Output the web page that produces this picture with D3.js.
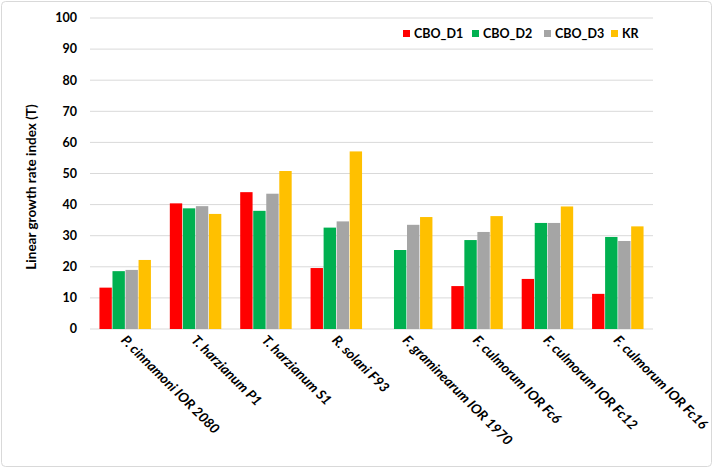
<!DOCTYPE html>
<html><head><meta charset="utf-8">
<script src="https://cdn.jsdelivr.net/npm/d3@7"></script>
<style>body{margin:0;background:#fff}svg{display:block}text{font-family:Lato,"Open Sans",sans-serif}</style>
</head><body>
<svg id="c" width="715" height="472"></svg>
<script>
const categories = ["P. cinnamoni IOR 2080","T. harzianum P1","T. harzianum S1","R. solani F93","F. graminearum IOR 1970","F. culmorum IOR Fc6","F. culmorum IOR Fc12","F. culmorum IOR Fc16"];
const seriesNames = ["CBO_D1","CBO_D2","CBO_D3","KR"];
const seriesColors = ["#FF0000","#00B050","#A5A5A5","#FFC000"];
const cbo_d1 = [13.3,40.4,44.0,19.6,0,13.8,16.1,11.3];
const cbo_d2 = [18.6,38.8,38.0,32.6,25.4,28.6,34.1,29.6];
const cbo_d3 = [19.0,39.5,43.5,34.6,33.5,31.2,34.1,28.3];
const kr     = [22.2,37.0,50.8,57.1,36.0,36.3,39.4,33.0];
const yTicks = [0,10,20,30,40,50,60,70,80,90,100];
const seriesValues = [cbo_d1,cbo_d2,cbo_d3,kr];

const svg = d3.select("#c");
svg.append("rect").attr("x",1.5).attr("y",1.5).attr("width",710).attr("height",465)
  .attr("rx",4).attr("fill","#fff").attr("stroke","#d9d9d9").attr("stroke-width",1);

const L=90,R=653,T=18,B=329;
const x = d3.scaleBand().domain(categories).range([L,R]).paddingInner(0.25).paddingOuter(0.125);
const xs = d3.scaleBand().domain(seriesNames).range([0,x.bandwidth()]).padding(0.05);
const y = d3.scaleLinear().domain([0,100]).range([B,T]);

// grid
svg.append("g").selectAll("line").data(yTicks).join("line")
  .attr("x1",L).attr("x2",R).attr("y1",d=>y(d)).attr("y2",d=>y(d))
  .attr("stroke","#d9d9d9").attr("stroke-width",1);

// y tick labels
svg.append("g").selectAll("text").data(yTicks).join("text")
  .attr("x",77).attr("y",d=>y(d)).attr("dy","0.35em").attr("text-anchor","end")
  .attr("font-size",12.5).attr("font-weight","bold").attr("fill","#000").text(d=>d);

// bars
seriesNames.forEach((s,i)=>{
  svg.append("g").selectAll("rect").data(categories).join("rect")
    .attr("x",c=>x(c)+xs(s)).attr("width",xs.bandwidth())
    .attr("y",(c,j)=>y(seriesValues[i][j])).attr("height",(c,j)=>B-y(seriesValues[i][j]))
    .attr("fill",seriesColors[i])
    .attr("display",(c,j)=>seriesValues[i][j]>0?null:"none");
});

// x labels
svg.append("g").selectAll("text").data(categories).join("text")
  .attr("transform",c=>`translate(${x(c)+x.bandwidth()/2-5},${341}) rotate(45)`)
  .attr("text-anchor","start").attr("font-size",13.6).attr("font-weight","bold").attr("font-style","italic")
  .attr("fill","#000").text(c=>c);

// y title
svg.append("text").attr("transform","translate(36,187) rotate(-90)").attr("text-anchor","middle")
  .attr("font-size",13.5).attr("font-weight","bold").attr("fill","#000").text("Linear growth rate index (T)");

// legend
const lx=[403,472,544,611];
const lg = svg.append("g");
seriesNames.forEach((s,i)=>{
  lg.append("rect").attr("x",lx[i]).attr("y",30).attr("width",7).attr("height",7).attr("fill",seriesColors[i]);
  lg.append("text").attr("x",lx[i]+11).attr("y",34).attr("dy","0.35em").attr("font-size",12.5)
    .attr("font-weight","bold").attr("fill","#000").text(s);
});
</script>
</body></html>
